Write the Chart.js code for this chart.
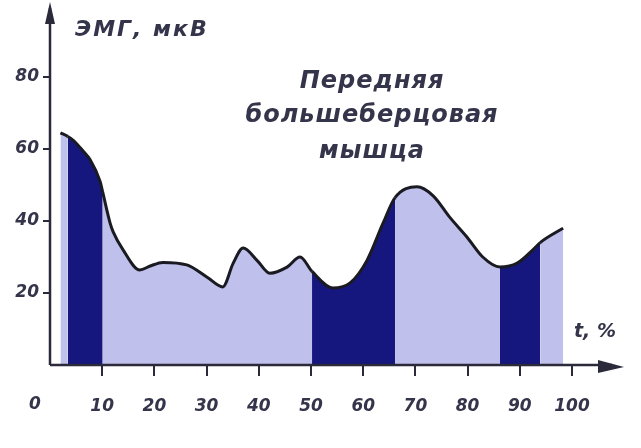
<!DOCTYPE html>
<html>
<head>
<meta charset="utf-8">
<script src="https://cdn.jsdelivr.net/npm/chart.js@4.4.0/dist/chart.umd.min.js"></script>
<style>
  html, body { margin: 0; padding: 0; background: #fff; }
  #wrap { width: 641px; height: 448px; }
</style>
</head>
<body>
<div id="wrap"><canvas id="emgChart" width="641" height="448"></canvas></div>
<script>
// gait cycle, % and EMG amplitude of tibialis anterior, mkV
var cyclePct = [2, 3.4, 4.4, 6.3, 7.7, 9.6, 10.1, 11.5, 12.1, 14, 17.2, 19.2, 21.6, 26.2, 30.1, 33.1, 35.1, 37, 39.7, 42.1, 45.4, 47.9,
                50.2, 54.2, 57.5, 60.7, 63.8, 66.1, 70.3, 73.4, 76.6, 79.9, 82.9, 86.2, 89.5, 92.5, 93.9, 97.7, 98.3];
var emgValues = [64.5, 63.5, 62.5, 59.5, 57, 51, 48, 39.5, 37, 32, 26.4, 27.5, 28.5, 27.8, 24.4, 21.7, 28.3, 32.5, 29, 25.5, 27.2, 30,
                 26, 21.4, 22.8, 29, 39.4, 46.5, 49.5, 47, 41, 35.5, 30, 27.2, 28.3, 32, 34, 37.5, 38];
// dark shaded phases [from, to] in %
var darkPhases = [[3.4, 10.1], [50.2, 66.1], [86.2, 93.9]];
var xTicks = [0, 10, 20, 30, 40, 50, 60, 70, 80, 90, 100];
var yTicks = [20, 40, 60, 80];
var yTitle = "ЭМГ, мкВ";
var xTitle = "t, %";
var muscleLabel = ["Передняя", "большеберцовая", "мышца"];

const DARK = '#16167f';
const LIGHT = '#c0c0ec';
const INK = '#34344a';

var points = [];
for (var i = 0; i < cyclePct.length; i++) {
    points.push({x: cyclePct[i], y: emgValues[i]});
}

function isDark(a, b) {
    for (var i = 0; i < darkPhases.length; i++) {
        if (a >= darkPhases[i][0] - 0.01 && b <= darkPhases[i][1] + 0.01) return true;
    }
    return false;
}

const tickFont = {family: 'DejaVu Sans', size: 17, weight: 'bold', style: 'italic'};

// axes with arrows and the free texts
const decorPlugin = {
    id: 'decor',
    afterDraw(chart) {
        var ctx = chart.ctx;
        var xs = chart.scales.x, ys = chart.scales.y;
        var x0 = xs.getPixelForValue(0), y0 = ys.getPixelForValue(0);
        ctx.save();
        ctx.strokeStyle = '#2a2a3a';
        ctx.fillStyle = '#2a2a3a';
        ctx.lineWidth = 2.5;
        ctx.beginPath();
        ctx.moveTo(x0, y0);
        ctx.lineTo(x0, 8);
        ctx.moveTo(x0, y0);
        ctx.lineTo(612, y0);
        ctx.stroke();
        // arrow heads
        ctx.beginPath();
        ctx.moveTo(x0, 2); ctx.lineTo(x0 - 5, 24); ctx.lineTo(x0 + 5, 24); ctx.closePath();
        ctx.fill();
        ctx.beginPath();
        ctx.moveTo(624, y0 + 2); ctx.lineTo(598, y0 - 5); ctx.lineTo(598, y0 + 8); ctx.closePath();
        ctx.fill();

        ctx.fillStyle = INK;
        ctx.textBaseline = 'middle';
        ctx.font = 'italic bold 17px "DejaVu Sans"';
        ctx.textAlign = 'center';
        ctx.fillText('0', 35, 405);
        ctx.font = 'italic bold 19px "DejaVu Sans"';
        ctx.fillText(xTitle, 595, 332);
        ctx.textAlign = 'left';
        ctx.letterSpacing = '2px';
        ctx.font = 'italic bold 22px "DejaVu Sans"';
        ctx.fillText(yTitle, 75, 30);

        ctx.textAlign = 'center';
        ctx.letterSpacing = '1px';
        ctx.font = 'italic bold 24px "DejaVu Sans"';
        var lineY = [82, 116, 152];
        for (var i = 0; i < muscleLabel.length; i++) {
            ctx.fillText(muscleLabel[i], 372, lineY[i]);
        }
        ctx.restore();
    }
};

new Chart(document.getElementById('emgChart'), {
    type: 'line',
    data: {
        datasets: [{
            data: points,
            borderColor: '#1a1a22',
            borderWidth: 3,
            pointRadius: 0,
            cubicInterpolationMode: 'monotone',
            fill: 'origin',
            backgroundColor: LIGHT,
            segment: {
                backgroundColor: c => isDark(c.p0.parsed.x, c.p1.parsed.x) ? DARK : LIGHT
            }
        }]
    },
    options: {
        responsive: false,
        animation: false,
        layout: {padding: {top: 23, right: 22, left: 0, bottom: 0}},
        plugins: {legend: {display: false}, tooltip: {enabled: false}},
        scales: {
            x: {
                type: 'linear',
                min: 0,
                max: 109,
                afterBuildTicks: s => { s.ticks = xTicks.filter(v => v > 0).map(v => ({value: v})); },
                afterFit: s => { s.height = 83; },
                border: {display: false},
                grid: {drawOnChartArea: false, drawTicks: true, tickLength: 11, color: '#2a2a3a', lineWidth: 2},
                ticks: {color: INK, font: tickFont, padding: 20, maxRotation: 0}
            },
            y: {
                min: 0,
                max: 95,
                afterBuildTicks: s => { s.ticks = yTicks.map(v => ({value: v})); },
                afterFit: s => { s.width = 50; },
                border: {display: false},
                grid: {drawOnChartArea: false, drawTicks: true, tickLength: 7, color: '#2a2a3a', lineWidth: 2},
                ticks: {color: INK, font: tickFont, padding: 4}
            }
        }
    },
    plugins: [decorPlugin]
});
</script>
</body>
</html>
